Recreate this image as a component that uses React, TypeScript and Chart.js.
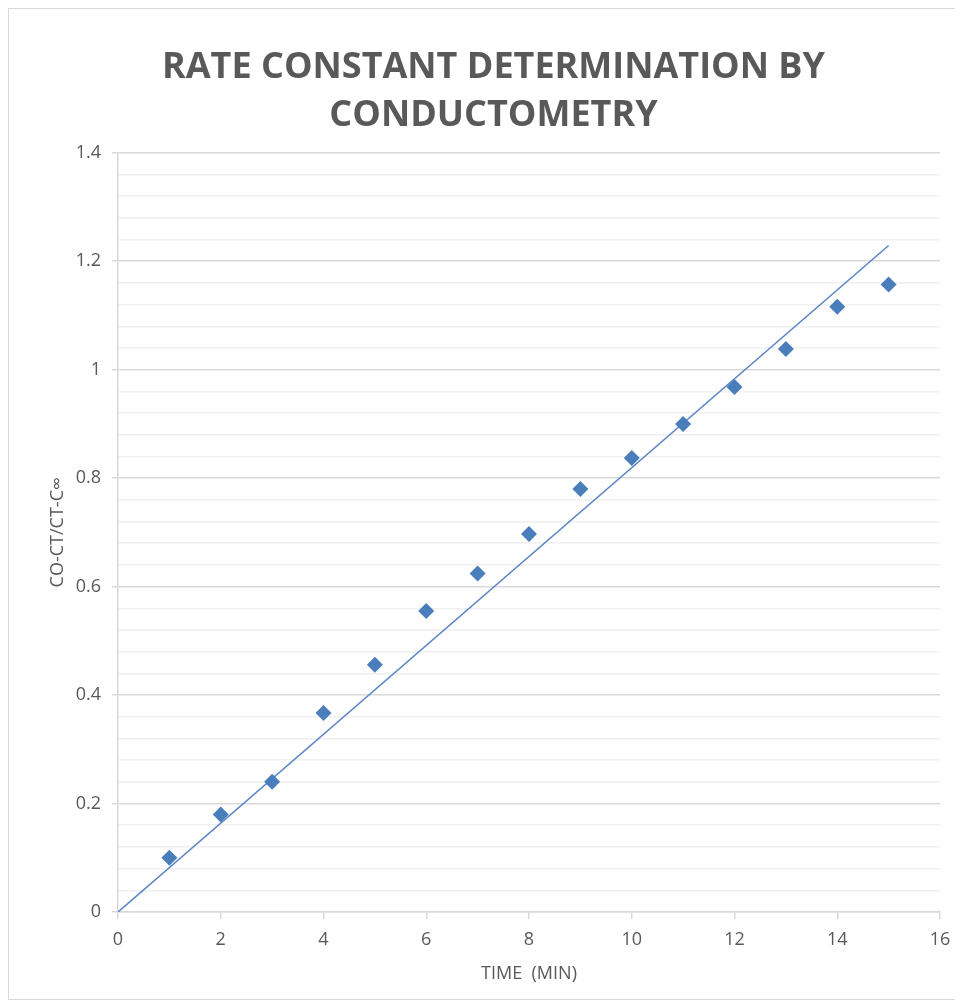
import React, { useEffect, useRef } from "react";
import { Chart, registerables } from "chart.js";

Chart.register(...registerables);

const timeMin = [1, 2, 3, 4, 5, 6, 7, 8, 9, 10, 11, 12, 13, 14, 15];
const ratio = [0.1, 0.18, 0.24, 0.367, 0.456, 0.555, 0.624, 0.697, 0.78, 0.837, 0.9, 0.968, 1.038, 1.116, 1.157];
const trendX = [0, 15];
const trendY = [0, 1.229];
const xTicks = [0, 2, 4, 6, 8, 10, 12, 14, 16];
const yMajorTicks = [0, 0.2, 0.4, 0.6, 0.8, 1, 1.2, 1.4];

const titleLines = ["RATE CONSTANT DETERMINATION BY", "CONDUCTOMETRY"];
const xTitle = "TIME  (MIN)";
const yTitle = "CO-CT/CT-C\u221E";

const isMajor = (v: number) => yMajorTicks.some((m) => Math.abs(m - v) < 1e-6);

export default function App() {
  const ref = useRef<HTMLCanvasElement | null>(null);
  useEffect(() => {
    if (!ref.current) return;
    const font = "'Open Sans', 'Liberation Sans', sans-serif";
    const chart = new Chart(ref.current, {
      type: "scatter",
      data: {
        datasets: [
          {
            label: "data",
            data: timeMin.map((x, i) => ({ x, y: ratio[i] })),
            pointStyle: "rectRot",
            pointRadius: 8,
            pointHoverRadius: 8,
            backgroundColor: "#4a7ebb",
            borderColor: "#4a7ebb",
            borderWidth: 0,
            showLine: false,
          },
          {
            label: "trend",
            data: trendX.map((x, i) => ({ x, y: trendY[i] })),
            showLine: true,
            pointRadius: 0,
            borderColor: "#5b86c5",
            borderWidth: 1.6,
            fill: false,
          },
        ],
      },
      options: {
        animation: false,
        responsive: false,
        maintainAspectRatio: false,
        layout: { padding: { left: 38, right: 22, top: 0, bottom: 0 } },
        plugins: {
          legend: { display: false },
          tooltip: { enabled: false },
          title: {
            display: true,
            text: titleLines,
            color: "#595959",
            font: { family: font, size: 36, weight: "bold", lineHeight: 1.33 },
            padding: { top: 35, bottom: 13 },
          },
        },
        scales: {
          x: {
            type: "linear",
            min: 0,
            max: 16,
            afterBuildTicks: (s: any) => {
              s.ticks = xTicks.map((v) => ({ value: v }));
            },
            afterFit: (s: any) => {
              s.height = 87;
            },
            ticks: {
              color: "#595959",
              font: { family: font, size: 18 },
              padding: 10,
              maxRotation: 0,
              autoSkip: false,
            },
            grid: {
              drawOnChartArea: false,
              drawTicks: true,
              tickLength: 7,
              color: "#d9d9d9",
              lineWidth: 1.5,
            },
            border: { display: true, color: "#d9d9d9", width: 1.5 },
            title: {
              display: true,
              text: xTitle,
              color: "#595959",
              font: { family: font, size: 18 },
              padding: { top: 8, bottom: 14 },
            },
          },
          y: {
            type: "linear",
            min: 0,
            max: 1.4,
            afterBuildTicks: (s: any) => {
              const t: any[] = [];
              for (let i = 0; i <= 35; i++) t.push({ value: Math.round(i * 4) / 100 });
              s.ticks = t;
            },
            afterFit: (s: any) => {
              s.width = 71;
            },
            ticks: {
              color: "#595959",
              font: { family: font, size: 18 },
              padding: 11,
              autoSkip: false,
              callback: (v: any) => (isMajor(Number(v)) ? String(Math.round(Number(v) * 10) / 10) : ""),
            },
            grid: {
              drawOnChartArea: true,
              drawTicks: true,
              tickLength: 6,
              color: (ctx: any) => (isMajor(ctx.tick.value) ? "#d9d9d9" : "#f0f0f0"),
              tickColor: (ctx: any) => (isMajor(ctx.tick.value) ? "#d9d9d9" : "rgba(0,0,0,0)"),
              lineWidth: 1.5,
            },
            border: { display: true, color: "#d9d9d9", width: 1.5 },
            title: {
              display: true,
              text: yTitle,
              color: "#595959",
              font: { family: font, size: 18 },
              padding: { top: 0, bottom: 0 },
            },
          },
        },
      },
    } as any);
    return () => chart.destroy();
  }, []);
  return (
    <div style={{ width: 953, height: 990, border: "1px solid #d9d9d9", background: "#fff" }}>
      <canvas ref={ref} width={953} height={990} style={{ display: "block" }} />
    </div>
  );
}
